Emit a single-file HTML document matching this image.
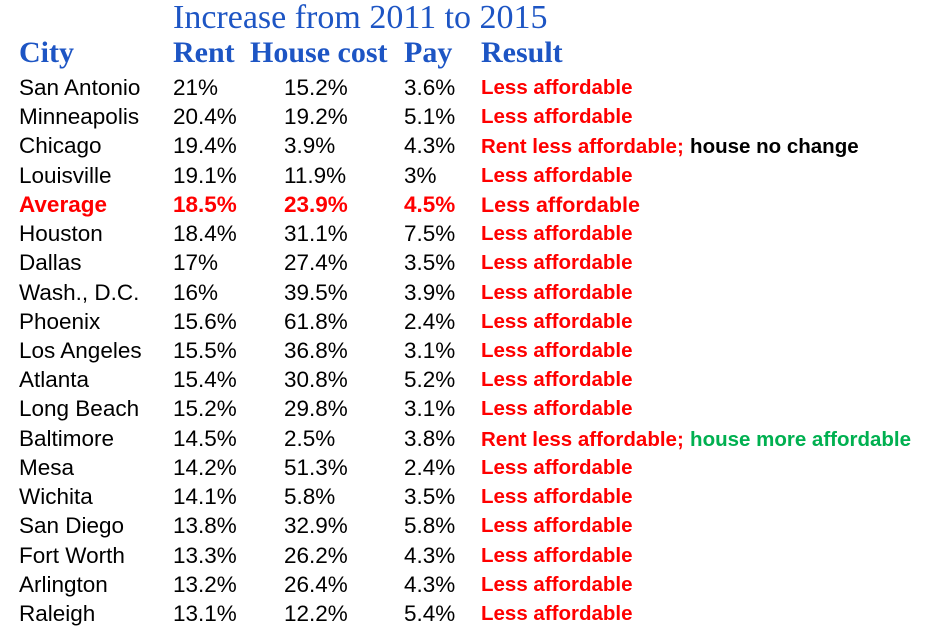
<!DOCTYPE html>
<html><head><meta charset="utf-8"><style>
body{margin:0;width:929px;height:626px;background:#fff;position:relative;overflow:hidden;font-family:"Liberation Sans",sans-serif}
.t{position:absolute;white-space:nowrap}
#title{left:173px;top:-1px;font-family:"Liberation Serif",serif;font-size:34px;color:#1d55c4;line-height:38px}
.h{position:absolute;top:36px;font-family:"Liberation Serif",serif;font-weight:bold;font-size:30px;color:#1d55c4;line-height:34px}
.c{position:absolute;font-size:22.5px;line-height:28px;color:#000;white-space:nowrap}
.r{color:#ff0000;font-weight:bold;font-size:20.5px}
.g{color:#00b050;font-weight:bold;font-size:20.5px}
.k{color:#000;font-weight:bold;font-size:20.5px}
.avg{color:#ff0000;font-weight:bold}
</style></head><body>
<div id="title" class="t">Increase from 2011 to 2015</div>
<div class="h" style="left:19px">City</div>
<div class="h" style="left:173px">Rent</div>
<div class="h" style="left:250px">House cost</div>
<div class="h" style="left:404px">Pay</div>
<div class="h" style="left:481px">Result</div>
<div id="rows"></div>
<script>
const cities=["San Antonio","Minneapolis","Chicago","Louisville","Average","Houston","Dallas","Wash., D.C.","Phoenix","Los Angeles","Atlanta","Long Beach","Baltimore","Mesa","Wichita","San Diego","Fort Worth","Arlington","Raleigh"];
const rent=["21%","20.4%","19.4%","19.1%","18.5%","18.4%","17%","16%","15.6%","15.5%","15.4%","15.2%","14.5%","14.2%","14.1%","13.8%","13.3%","13.2%","13.1%"];
const house=["15.2%","19.2%","3.9%","11.9%","23.9%","31.1%","27.4%","39.5%","61.8%","36.8%","30.8%","29.8%","2.5%","51.3%","5.8%","32.9%","26.2%","26.4%","12.2%"];
const pay=["3.6%","5.1%","4.3%","3%","4.5%","7.5%","3.5%","3.9%","2.4%","3.1%","5.2%","3.1%","3.8%","2.4%","3.5%","5.8%","4.3%","4.3%","5.4%"];
const result=["Less affordable","Less affordable","<span class='r'>Rent less affordable;</span> <span class='k'>house no change</span>","Less affordable","Less affordable","Less affordable","Less affordable","Less affordable","Less affordable","Less affordable","Less affordable","Less affordable","<span class='r'>Rent less affordable;</span> <span class='g'>house more affordable</span>","Less affordable","Less affordable","Less affordable","Less affordable","Less affordable","Less affordable"];
const rows=document.getElementById('rows');
const xs=[19,173,284,404,481];
cities.forEach((c,i)=>{
  const top=88+29.22*i-14;
  const isAvg=c==="Average";
  const vals=[c,rent[i],house[i],pay[i],result[i]];
  const names=['city','rent','house-cost','pay','result'];
  vals.forEach((v,j)=>{
    const d=document.createElement('div');
    d.className='c'+(isAvg?' avg':'');
    d.style.left=xs[j]+'px';d.style.top=top+'px';
    if(j===4){
      if(v.indexOf('<span')===0){d.innerHTML=v;}
      else{d.textContent=v;d.classList.add('r');if(isAvg)d.style.fontSize='21.5px';}
    } else d.textContent=v;
    
    
    rows.appendChild(d);
  });
});
</script>
</body></html>
